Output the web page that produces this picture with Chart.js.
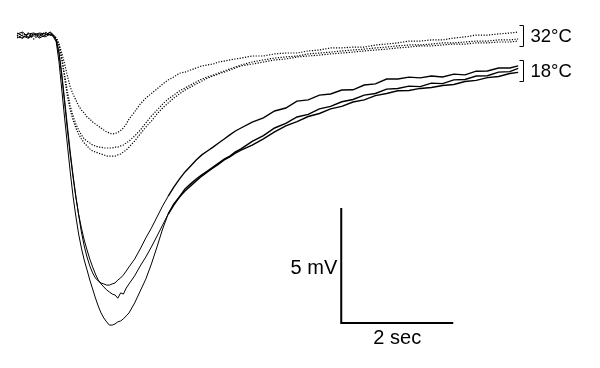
<!DOCTYPE html>
<html>
<head>
<meta charset="utf-8">
<script src="https://cdn.jsdelivr.net/npm/chart.js@4/dist/chart.umd.min.js"></script>
<style>
  html, body { margin: 0; padding: 0; background: #fff; }
  #wrap { width: 600px; height: 368px; }
</style>
</head>
<body>
<div id="wrap"><canvas id="trace" width="600" height="368"></canvas></div>
<script>
// time in seconds from start of recording
const time = [0, 0.1, 0.2, 0.3, 0.4, 0.5, 0.6, 0.65,
  0.7, 0.75, 0.8, 0.85, 0.9, 0.95, 1.0, 1.05, 1.1, 1.15, 1.2, 1.25, 1.3, 1.35, 1.4, 1.45, 1.5, 1.55, 1.6, 1.65, 1.7, 1.75, 1.8, 1.85, 1.9, 1.95, 2.0,
  2.1, 2.2, 2.3, 2.4, 2.5, 2.6, 2.7, 2.8, 2.9, 3.0, 3.1, 3.2, 3.3, 3.4, 3.5, 3.6, 3.7, 3.8, 3.9, 4.0,
  4.2, 4.4, 4.6, 4.8, 5.0, 5.2, 5.4, 5.6, 5.8, 6.0, 6.2, 6.4, 6.6, 6.8, 7.0, 7.2, 7.4, 7.6, 7.8, 8.0, 8.2, 8.4, 8.6, 8.8, 8.95];

// 32°C recordings (mV, relative to baseline)
const warm1 = [0, 0.13, -0.09, 0.09, -0.04, 0.17, 0.09, 0.04,
  -0.09, -0.35, -0.74, -1.22, -1.74, -2.22, -2.52, -2.78, -3.04, -3.22, -3.35, -3.52, -3.61, -3.74, -3.83, -3.91, -4.00, -4.09, -4.17, -4.22, -4.26, -4.24, -4.19, -4.11, -4.00, -3.83, -3.61,
  -3.30, -2.96, -2.70, -2.50, -2.30, -2.09, -1.91, -1.78, -1.62, -1.57, -1.48, -1.39, -1.30, -1.26, -1.22, -1.13, -1.09, -1.04, -1.00, -0.96,
  -0.87, -0.87, -0.78, -0.74, -0.74, -0.65, -0.61, -0.52, -0.52, -0.48, -0.48, -0.39, -0.35, -0.30, -0.22, -0.22, -0.17, -0.17, -0.09, -0.04, 0.04, 0.04, 0.09, 0.13, 0.17];
const warm2 = [0.04, -0.09, 0.13, -0.04, 0.09, 0.04, 0.17, 0.04,
  -0.09, -0.39, -0.96, -1.70, -2.43, -3.04, -3.48, -3.83, -4.09, -4.30, -4.48, -4.57, -4.65, -4.74, -4.78, -4.83, -4.83, -4.87, -4.87, -4.87, -4.87, -4.83, -4.83, -4.78, -4.74, -4.65, -4.57,
  -4.35, -4.09, -3.78, -3.48, -3.22, -2.96, -2.74, -2.57, -2.39, -2.26, -2.13, -2.00, -1.87, -1.78, -1.70, -1.61, -1.52, -1.43, -1.35, -1.26,
  -1.13, -1.04, -0.96, -0.91, -0.87, -0.78, -0.74, -0.70, -0.65, -0.61, -0.57, -0.52, -0.48, -0.43, -0.39, -0.39, -0.35, -0.30, -0.30, -0.26, -0.22, -0.22, -0.17, -0.17, -0.13];
const warm3 = [-0.09, 0.04, 0.09, -0.13, 0.04, 0.13, 0.04, 0,
  -0.09, -0.43, -1.04, -1.83, -2.61, -3.22, -3.65, -4.00, -4.26, -4.48, -4.65, -4.78, -4.91, -5.00, -5.04, -5.09, -5.13, -5.17, -5.22, -5.22, -5.22, -5.22, -5.17, -5.13, -5.04, -4.96, -4.83,
  -4.57, -4.26, -3.96, -3.70, -3.39, -3.13, -2.91, -2.70, -2.52, -2.35, -2.22, -2.09, -1.96, -1.83, -1.74, -1.65, -1.57, -1.48, -1.39, -1.30,
  -1.22, -1.13, -1.04, -1.00, -0.91, -0.87, -0.83, -0.78, -0.74, -0.70, -0.65, -0.61, -0.57, -0.52, -0.48, -0.43, -0.43, -0.39, -0.35, -0.35, -0.30, -0.30, -0.26, -0.26, -0.22];

// 18°C recordings
const cold1 = [0.09, 0.17, -0.04, 0.09, -0.09, 0.04, 0.17, -0.04,
  -0.26, -1.13, -2.35, -3.57, -4.74, -5.91, -6.96, -7.83, -8.61, -9.22, -9.74, -10.17, -10.61, -11.00, -11.39, -11.74, -12.04, -12.26, -12.43, -12.57, -12.57, -12.52, -12.43, -12.39, -12.30, -12.17, -12.04,
  -11.61, -11.09, -10.57, -9.91, -9.17, -8.39, -7.74, -7.30, -7.00, -6.74, -6.52, -6.30, -6.09, -5.91, -5.74, -5.57, -5.39, -5.26, -5.09, -4.96,
  -4.74, -4.47, -4.17, -3.91, -3.72, -3.50, -3.37, -3.17, -3.06, -2.87, -2.78, -2.59, -2.50, -2.38, -2.37, -2.28, -2.24, -2.15, -2.11, -1.98, -1.93, -1.81, -1.76, -1.63, -1.58];
const cold2 = [-0.04, -0.09, 0.09, 0.13, 0.04, -0.04, 0.09, 0.04,
  -0.17, -0.78, -1.78, -2.91, -4.09, -5.17, -6.13, -7.00, -7.74, -8.35, -8.87, -9.30, -9.70, -10.04, -10.35, -10.61, -10.78, -10.91, -11.04, -11.13, -11.22, -11.26, -11.40, -11.17, -11.22, -10.96, -10.78,
  -10.43, -10.00, -9.61, -9.17, -8.70, -8.22, -7.74, -7.35, -7.00, -6.65, -6.43, -6.22, -6.04, -5.87, -5.70, -5.52, -5.35, -5.22, -5.04, -4.91,
  -4.58, -4.33, -4.00, -3.80, -3.52, -3.41, -3.17, -3.06, -2.86, -2.76, -2.57, -2.50, -2.31, -2.28, -2.18, -2.20, -2.05, -2.07, -1.91, -1.89, -1.74, -1.73, -1.57, -1.55, -1.41];
const cold3 = [0.13, 0, -0.09, 0.04, 0.13, 0.09, 0.04, 0,
  -0.17, -0.70, -1.65, -2.78, -3.91, -5.04, -6.04, -6.96, -7.78, -8.52, -9.13, -9.61, -10.00, -10.30, -10.52, -10.65, -10.74, -10.78, -10.83, -10.83, -10.78, -10.74, -10.61, -10.52, -10.39, -10.22, -10.04,
  -9.70, -9.26, -8.78, -8.35, -7.87, -7.39, -6.96, -6.57, -6.22, -5.91, -5.65, -5.39, -5.17, -5.00, -4.83, -4.65, -4.48, -4.30, -4.13, -4.00,
  -3.74, -3.56, -3.26, -3.13, -2.83, -2.78, -2.57, -2.52, -2.35, -2.34, -2.13, -2.08, -1.87, -1.87, -1.79, -1.82, -1.74, -1.78, -1.66, -1.69, -1.53, -1.52, -1.39, -1.39, -1.30];

// scale bar: 2 sec by 5 mV, corner position in data units
const barCorner = [5.79, -12.48];
const barSec = 2;
const barMv = 5;

// temperature labels with bracket extents (mV)
const groupLabels = ['32°C', '18°C'];
const groupTop = [0.48, -1.04];
const groupBottom = [-0.43, -1.96];
const bracketTime = 9.04;

const toPoints = (vals) => vals.map((v, i) => ({ x: time[i], y: v }));

const dotted = (vals) => ({
  data: toPoints(vals),
  borderColor: '#000',
  borderWidth: 1.2,
  borderDash: [1.2, 1.5],
  pointRadius: 0,
  tension: 0,
});

const solid = (vals) => ({
  data: toPoints(vals),
  borderColor: '#000',
  borderWidth: 1,
  pointRadius: 0,
  tension: 0,
  // the noisy recovery phase looks heavier in the original
  segment: { borderWidth: (c) => (c.p0.parsed.x > 2.6 ? 1.4 : 1) },
});

const labelPlugin = {
  id: 'labels',
  afterDraw(chart) {
    const ctx = chart.ctx;
    const xs = chart.scales.x;
    const ys = chart.scales.y;
    ctx.save();
    ctx.fillStyle = '#000';
    ctx.strokeStyle = '#000';
    ctx.lineWidth = 1;

    // brackets and temperature text
    const bx = Math.round(xs.getPixelForValue(bracketTime)) + 0.5;
    ctx.font = '18.5px "Liberation Sans", Arial, sans-serif';
    ctx.textBaseline = 'middle';
    ctx.textAlign = 'left';
    groupLabels.forEach((txt, i) => {
      const y0 = Math.round(ys.getPixelForValue(groupTop[i])) + 0.5;
      const y1 = Math.round(ys.getPixelForValue(groupBottom[i])) + 0.5;
      ctx.beginPath();
      ctx.moveTo(bx - 4, y0);
      ctx.lineTo(bx, y0);
      ctx.lineTo(bx, y1);
      ctx.lineTo(bx - 4, y1);
      ctx.stroke();
      ctx.fillText(txt, bx + 7, (y0 + y1) / 2 + 1);
    });

    // scale bar text
    const cx = xs.getPixelForValue(barCorner[0]);
    const cy = ys.getPixelForValue(barCorner[1]);
    const topY = ys.getPixelForValue(barCorner[1] + barMv);
    const endX = xs.getPixelForValue(barCorner[0] + barSec);
    ctx.font = '20px "Liberation Sans", Arial, sans-serif';
    ctx.textAlign = 'right';
    ctx.fillText(barMv + ' mV', cx - 4, (topY + cy) / 2 + 3);
    ctx.textAlign = 'center';
    ctx.fillText(barSec + ' sec', (cx + endX) / 2, cy + 15);
    ctx.restore();
  },
};

new Chart(document.getElementById('trace').getContext('2d'), {
  type: 'line',
  data: {
    datasets: [
      dotted(warm1),
      dotted(warm2),
      dotted(warm3),
      solid(cold1),
      solid(cold2),
      solid(cold3),
      {
        data: [
          { x: barCorner[0], y: barCorner[1] + barMv },
          { x: barCorner[0], y: barCorner[1] },
          { x: barCorner[0] + barSec, y: barCorner[1] },
        ],
        borderColor: '#000',
        borderWidth: 2,
        pointRadius: 0,
        tension: 0,
      },
    ],
  },
  options: {
    responsive: false,
    animation: false,
    devicePixelRatio: 1,
    layout: { padding: 0 },
    plugins: { legend: { display: false }, tooltip: { enabled: false } },
    scales: {
      x: { type: 'linear', min: -0.304, max: 10.411, display: false },
      y: { type: 'linear', min: -14.435, max: 1.565, display: false },
    },
  },
  plugins: [labelPlugin],
});
</script>
</body>
</html>
